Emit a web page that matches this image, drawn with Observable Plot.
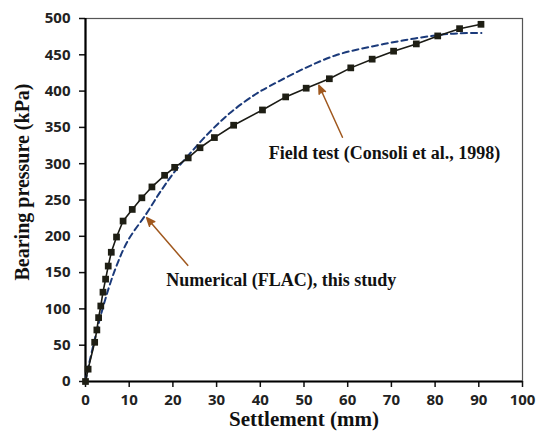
<!DOCTYPE html>
<html><head><meta charset="utf-8">
<script src="https://cdn.jsdelivr.net/npm/d3@7"></script>
<script src="https://cdn.jsdelivr.net/npm/@observablehq/plot@0.6"></script>
<style>
body{margin:0;background:#fff}
#chart svg{display:block}
#chart g[aria-label="arrow"] path{fill:#a0581e}
</style></head><body><div id="chart"></div>
<script>
// Field test (Consoli et al., 1998) – settlement (mm) / bearing pressure (kPa)
const fieldX = [0,0.6,2.1,2.6,3.0,3.5,4.0,4.6,5.2,5.9,7.1,8.6,10.7,12.9,15.2,18.1,20.4,23.5,26.2,29.5,33.9,40.5,45.8,50.5,55.8,60.7,65.6,70.5,75.7,80.6,85.6,90.5];
const fieldY = [0,17,54,71,88,104,123,141,159,178,199,221,237,253,268,284,295,308,322,336,353,374,392,404,417,432,444,455,465,476,486,492];
// Numerical (FLAC), this study
const numX = [0,0.8,3.9,6.7,9.7,13.8,17.2,20.4,24.2,28.8,33.5,39,42.2,50,57.6,65.2,72.9,80.5,85,90.6];
const numY = [0,24,100,153,194,230,262,289,316,346,372,396,407,431,450,461,470,477,479.5,480];
// axis ticks
const xTicks = [0,10,20,30,40,50,60,70,80,90,100];
const yTicks = [0,50,100,150,200,250,300,350,400,450,500];
// annotations (text anchor and arrow in data units)
const noteText = ["Field test (Consoli et al., 1998)", "Numerical (FLAC), this study"];
const noteX = [68.4, 44.8];
const noteY = [314, 139];
const arrowX1 = [58.8, 23.4], arrowY1 = [336.5, 160];
const arrowX2 = [53.4, 14.0], arrowY2 = [408, 225.6];

const field = fieldX.map((x, i) => ({x, y: fieldY[i]}));
const num = numX.map((x, i) => ({x, y: numY[i]}));
const notes = noteText.map((t, i) => ({t, x: noteX[i], y: noteY[i], x1: arrowX1[i], y1: arrowY1[i], x2: arrowX2[i], y2: arrowY2[i]}));

const serif = "'Liberation Serif', 'Times New Roman', serif";
const chart = Plot.plot({
  width: 542, height: 439,
  marginLeft: 85, marginRight: 20, marginTop: 18, marginBottom: 58,
  style: {fontFamily: "'Open Sans', sans-serif", fontSize: "15px", fontWeight: "bold", color: "#222", background: "#fff", overflow: "visible"},
  x: {domain: [0, 100]},
  y: {domain: [0, 500]},
  marks: [
    Plot.frame({stroke: "#555", strokeWidth: 1.2}),
    Plot.axisX(xTicks, {tickSize: 6, tickPadding: 7, label: null, strokeWidth: 1.5, stroke: "#111"}),
    Plot.axisY(yTicks, {tickSize: 6, tickPadding: 9, label: null, strokeWidth: 1.5, stroke: "#111"}),
    Plot.ruleX([0], {stroke: "#000", strokeWidth: 2.2}),
    Plot.ruleY([0], {stroke: "#000", strokeWidth: 2.2}),
    Plot.line(num, {x: "x", y: "y", curve: "catmull-rom", stroke: "#1b3a7a", strokeWidth: 2, strokeDasharray: "6,4"}),
    Plot.line(field, {x: "x", y: "y", stroke: "#1a1a14", strokeWidth: 1.6}),
    Plot.dot(field, {x: "x", y: "y", symbol: "square", r: 3.8, fill: "#1e1e14", stroke: "none"}),
    Plot.arrow(notes, {x1: "x1", y1: "y1", x2: "x2", y2: "y2", stroke: "#a0581e", strokeWidth: 1.5, headLength: 9, headAngle: 45, strokeLinejoin: "miter"}),
    Plot.text(notes, {x: "x", y: "y", text: "t", fontFamily: serif, fontSize: 18, fontWeight: "bold", fill: "#111", textAnchor: "middle", lineAnchor: "middle"}),
    Plot.text(["Settlement (mm)"], {frameAnchor: "bottom", dy: 38, fontFamily: serif, fontSize: 21, fontWeight: "bold", fill: "#111", textAnchor: "middle", lineAnchor: "middle"}),
    Plot.text(["Bearing pressure (kPa)"], {frameAnchor: "left", dx: -63, dy: -18, rotate: -90, fontFamily: serif, fontSize: 20, fontWeight: "bold", fill: "#111", textAnchor: "middle", lineAnchor: "middle"})
  ]
});
document.getElementById("chart").appendChild(chart);
</script>
</body></html>
